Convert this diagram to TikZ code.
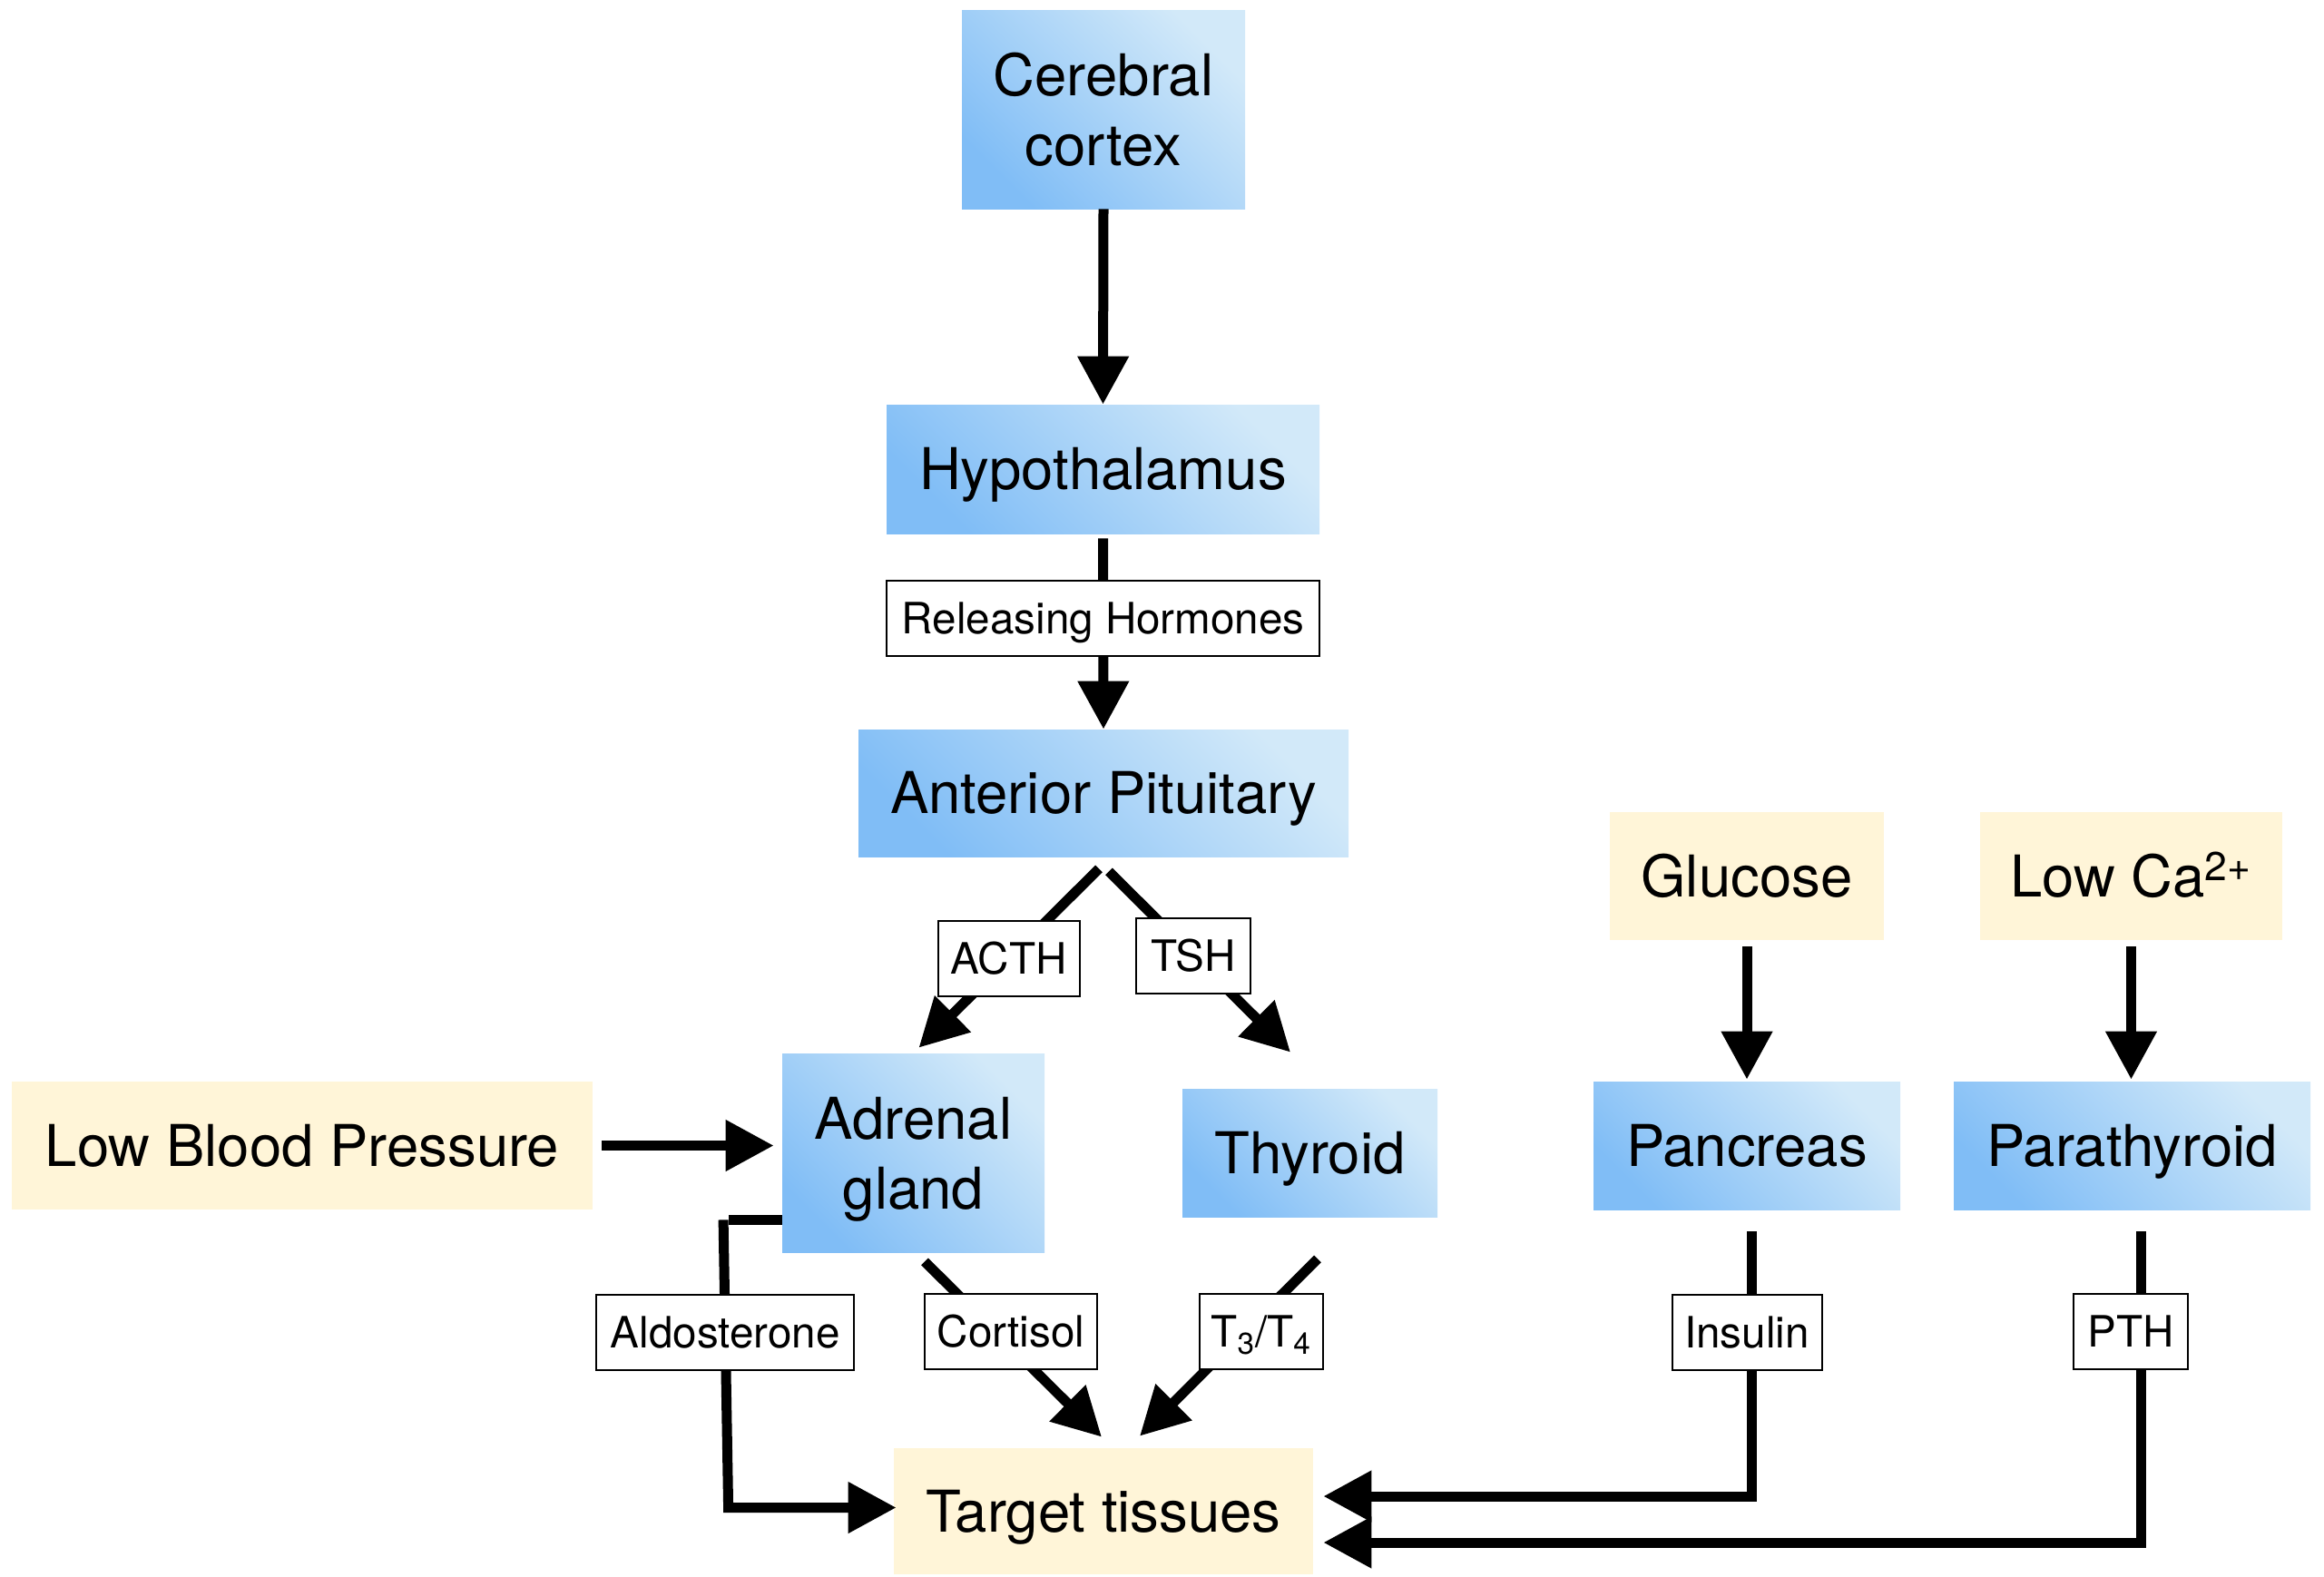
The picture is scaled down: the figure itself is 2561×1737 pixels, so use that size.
\documentclass[tikz,border=0pt]{standalone}
\usepackage{fontspec}
\setmainfont{TeX Gyre Heros}
\usetikzlibrary{arrows.meta,calc}
\definecolor{bluedark}{RGB}{128,189,246}
\definecolor{bluelight}{RGB}{210,233,249}
\definecolor{creamfill}{RGB}{255,245,216}
\begin{document}
\begin{tikzpicture}[x=0.5pt,y=-0.5pt,
  bluebox/.style={top color=bluelight, bottom color=bluedark, shading angle=-45,
    font=\fontsize{31.75}{38.5}\selectfont, align=center, inner sep=0pt, text depth=0pt},
  creambox/.style={fill=creamfill, font=\fontsize{31.75}{38.5}\selectfont, align=center, inner sep=0pt, text depth=0pt},
  oneline/.style={text height=22.8pt},
  lbl/.style={draw, line width=1pt, fill=white, font=\fontsize{23.8}{28}\selectfont,
    inner sep=0pt, minimum height=41.5pt, text height=17.1pt, text depth=0pt},
  conn/.style={line width=5.5pt},
  arr/.style={conn, -{Triangle[length=26.5pt,width=27pt]}}]
\useasboundingbox (0,0) rectangle (2561,1737);

% boxes
\node[bluebox, minimum width=156pt, minimum height=109.5pt] (cc) at (1216,120.5) {Cerebral\\cortex};
\node[bluebox, oneline, minimum width=238.5pt, minimum height=71pt] (hyp) at (1215.5,517) {Hypothalamus};
\node[bluebox, oneline, minimum width=270pt, minimum height=70pt] (ant) at (1216,874) {Anterior Pituitary};
\node[creambox, oneline, minimum width=151pt, minimum height=70.5pt] (glu) at (1925,965.5) {Glucose};
\node[creambox, oneline, minimum width=166.5pt, minimum height=70.5pt] (ca) at (2348.5,965.5) {Low Ca\textsuperscript{2+}};
\node[creambox, oneline, minimum width=320pt, minimum height=70.5pt] (lbp) at (333,1262.5) {Low Blood Pressure};
\node[bluebox, minimum width=144.5pt, minimum height=109.5pt] (adr) at (1006.5,1270.5) {Adrenal\\gland};
\node[bluebox, oneline, minimum width=140.5pt, minimum height=70.5pt] (thy) at (1443.5,1270.5) {Thyroid};
\node[bluebox, oneline, minimum width=169pt, minimum height=70.5pt] (pan) at (1925,1262.5) {Pancreas};
\node[bluebox, oneline, minimum width=196.5pt, minimum height=70.5pt] (par) at (2349.5,1262.5) {Parathyroid};
\node[creambox, oneline, minimum width=231pt, minimum height=69.5pt] (tgt) at (1216,1665.5) {Target tissues};

% connectors
\draw[arr] (cc.south) -- (hyp.north);
\draw[arr] ($(hyp.south)+(0,5)$) -- node[lbl, pos=0.42, minimum width=238.5pt] (rh) {Releasing Hormones} (ant.north);
\draw[arr] ($(ant.south)+(-5,13)$) -- node[lbl, pos=0.5, minimum width=78pt] (acth) {ACTH} ($(adr.north)+(6,-6)$);
\draw[arr] ($(ant.south)+(6,16)$) -- node[lbl, pos=0.465, minimum width=63pt] (tsh) {TSH} ($(thy.north)+(-21.5,-40)$);
\draw[arr] ($(lbp.east)+(10,0)$) -- ($(lbp.east -| adr.west)+(-9,0)$);
\coordinate (aldA) at ($(adr.south west)+(0,-36)$);
\coordinate (aldB) at ($(tgt.west)+(-182,-4)$);
\draw[conn] (aldA) -- (aldA -| aldB);
\draw[arr] ([xshift=-2.75pt]aldA -| aldB) -- node[lbl, pos=0.39, minimum width=142pt] (ald) {Aldosterone} (aldB) -- ($(tgt.west)+(3,-4)$);
\draw[arr] ($(adr.south)+(12.5,10)$) -- node[lbl, pos=0.40, xshift=8.5pt, minimum width=95pt] (cor) {Cortisol} ($(tgt.north)+(-2,-12)$);
\draw[arr] ($(thy.south)+(8.5,46)$) -- node[lbl, pos=0.41, xshift=9pt, minimum width=68pt] (t34) {T\textsubscript{3}/T\textsubscript{4}} ($(tgt.north)+(40,-13)$);
\coordinate (insE) at ($(tgt.east)+(11,-16.5)$);
\coordinate (insS) at ($(pan.south)+(5,24)$);
\draw[arr] (insS) -- node[lbl, pos=0.38, xshift=-2.5pt, minimum width=82.5pt] (ins) {Insulin} (insS |- insE) -- (insE);
\coordinate (pthE) at ($(tgt.east)+(11,34.5)$);
\coordinate (pthS) at ($(par.south)+(9.5,24)$);
\draw[arr] (pthS) -- node[lbl, pos=0.32, xshift=-5.5pt, minimum width=63pt] (pth) {PTH} (pthS |- pthE) -- (pthE);
\draw[arr] ($(glu.south)+(0,7)$) -- ($(pan.north)+(0,-2)$);
\draw[arr] ($(ca.south)+(0,7)$) -- ($(ca.south |- par.north)+(0,-2)$);
\end{tikzpicture}
\end{document}
